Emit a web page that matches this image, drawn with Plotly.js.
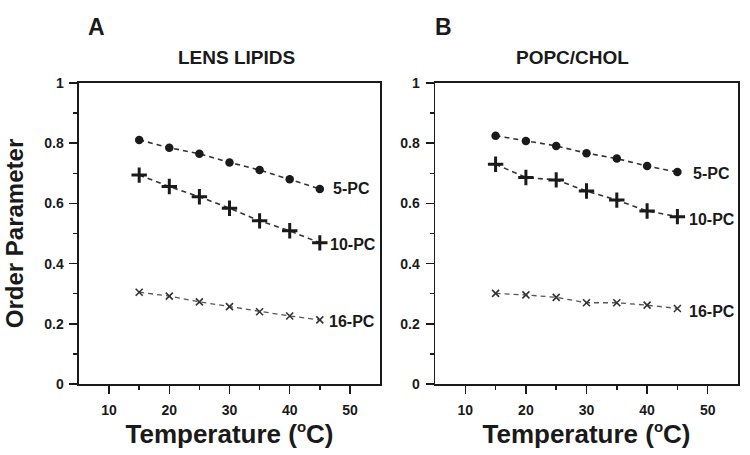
<!DOCTYPE html>
<html>
<head>
<meta charset="utf-8">
<script src="https://cdn.plot.ly/plotly-3.0.1.min.js"></script>
<style>html,body{margin:0;padding:0;background:#fff}#chart{width:750px;height:455px}</style>
</head>
<body>
<div id="chart"></div>
<script>
const temps = [15, 20, 25, 30, 35, 40, 45];
const seriesNames = ["5-PC", "10-PC", "16-PC"];
const lensLipids5PC = [0.811, 0.785, 0.765, 0.736, 0.711, 0.680, 0.648];
const lensLipids10PC = [0.694, 0.656, 0.622, 0.584, 0.542, 0.509, 0.469];
const lensLipids16PC = [0.305, 0.292, 0.273, 0.257, 0.240, 0.226, 0.213];
const popcChol5PC = [0.825, 0.807, 0.791, 0.767, 0.749, 0.724, 0.704];
const popcChol10PC = [0.730, 0.686, 0.678, 0.641, 0.611, 0.575, 0.556];
const popcChol16PC = [0.301, 0.296, 0.288, 0.270, 0.270, 0.262, 0.251];
const panelLetters = ["A", "B"];
const panelTitles = ["LENS LIPIDS", "POPC/CHOL"];
const xTitle = "Temperature (<sup><span style=\"font-size:15px\">o</span></sup>C)";
const yTitle = "Order Parameter";

const FONT = "Liberation Sans, Arial, sans-serif";
const ink = "#1a1a1a";
const markerStyles = [
  {symbol: "circle", size: 8.5, color: ink, line: {width: 0}},
  {symbol: "cross-thin", size: 11, color: ink, line: {width: 3, color: ink}},
  {symbol: "x-thin", size: 7, color: "#333", line: {width: 1.6, color: "#333"}}
];
const lineStyles = [
  {color: "#333", width: 1.6, dash: "5px,4px"},
  {color: "#333", width: 1.6, dash: "5px,4px"},
  {color: "#555", width: 1.3, dash: "5px,4px"}
];

const panels = [
  [lensLipids5PC, lensLipids10PC, lensLipids16PC],
  [popcChol5PC, popcChol10PC, popcChol16PC]
];
const traces = [];
const annotations = [];
const labelShift = [[11, 8, 7], [14, 10, 10]];
const labelYShift = [[0, -2, -2], [-1, -3, -3]];
panels.forEach((sets, p) => {
  const xa = p === 0 ? "x" : "x2";
  const ya = p === 0 ? "y" : "y2";
  sets.forEach((vals, s) => {
    traces.push({
      x: temps, y: vals, xaxis: xa, yaxis: ya,
      type: "scatter", mode: "lines+markers",
      name: seriesNames[s], showlegend: false,
      line: lineStyles[s], marker: markerStyles[s], cliponaxis: false
    });
    annotations.push({
      xref: xa, yref: ya, x: temps[temps.length - 1], y: vals[vals.length - 1],
      text: seriesNames[s], showarrow: false, xanchor: "left", yanchor: "middle",
      xshift: labelShift[p][s], yshift: labelYShift[p][s],
      font: {family: FONT, size: 16, weight: 700, color: ink}
    });
  });
});

const dom = [[0.1053, 0.5067], [0.58, 0.984]];
const ydom = [0.156, 0.8176];
const titleX = [236.5 / 750, 572 / 750];
panelLetters.forEach((L, p) => {
  annotations.push({
    xref: "paper", yref: "paper", x: p === 0 ? 0.115 : 0.578, y: 1 - 27/455,
    text: L, showarrow: false, xanchor: "left", yanchor: "middle",
    font: {family: FONT, size: 23, weight: 700, color: ink}
  });
  annotations.push({
    xref: "paper", yref: "paper", x: titleX[p], y: 1 - 57/455,
    text: panelTitles[p], showarrow: false, xanchor: "center", yanchor: "middle",
    font: {family: FONT, size: 19, weight: 700, color: ink}
  });
});

function xaxis(p) {
  return {
    domain: dom[p], range: [5, 55], anchor: p === 0 ? "y" : "y2",
    tickvals: [10, 20, 30, 40, 50], ticks: "outside", ticklen: 8, tickwidth: 1.5, tickcolor: ink,
    minor: {tickvals: [15, 25, 35, 45], ticks: "outside", ticklen: 4, tickwidth: 1.5, tickcolor: ink},
    showline: true, linecolor: ink, linewidth: 1.5, mirror: true, showgrid: false, zeroline: false,
    tickfont: {family: FONT, size: 14, weight: 700, color: ink}, ticklabelstandoff: 5,
    title: {text: xTitle, standoff: 2, font: {family: FONT, size: 26, weight: 700, color: ink}}
  };
}
function yaxis(p) {
  const ax = {
    domain: ydom, range: [0, 1], anchor: p === 0 ? "x" : "x2",
    tickvals: [0, 0.2, 0.4, 0.6, 0.8, 1], ticktext: ["0", "0.2", "0.4", "0.6", "0.8", "1"],
    ticks: "outside", ticklen: 8, tickwidth: 1.5, tickcolor: ink,
    minor: {tickvals: [0.1, 0.3, 0.5, 0.7, 0.9], ticks: "outside", ticklen: 4, tickwidth: 1.5, tickcolor: ink},
    showline: true, linecolor: ink, linewidth: 1.5, mirror: true, showgrid: false, zeroline: false,
    tickfont: {family: FONT, size: 14, weight: 700, color: ink}, ticklabelstandoff: 3
  };
  if (p === 0) ax.title = {text: yTitle, standoff: 14, font: {family: FONT, size: 24, weight: 700, color: ink}};
  return ax;
}

const layout = {
  width: 750, height: 455, margin: {l: 0, r: 0, t: 0, b: 0},
  paper_bgcolor: "#fff", plot_bgcolor: "#fff",
  xaxis: xaxis(0), yaxis: yaxis(0), xaxis2: xaxis(1), yaxis2: yaxis(1),
  annotations: annotations, showlegend: false
};
Plotly.newPlot("chart", traces, layout, {displayModeBar: false, staticPlot: true});
</script>
</body>
</html>
